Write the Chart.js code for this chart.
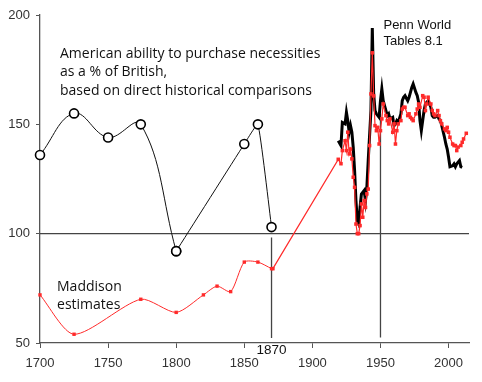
<!DOCTYPE html>
<html>
<head>
<meta charset="utf-8">
<script src="https://cdn.jsdelivr.net/npm/chart.js@4.4.1/dist/chart.umd.min.js"></script>
<style>
  html, body { margin: 0; padding: 0; background: #fff; }
</style>
</head>
<body>
<canvas id="chart" width="482" height="382"></canvas>
<script>
// tick labels
const xTicks = [1700, 1750, 1800, 1850, 1900, 1950, 2000];
const yTicks = [50, 100, 150, 200];

// American ability to purchase necessities (open circles)
const directYears  = [1700, 1725, 1750, 1774, 1800, 1850, 1860, 1870];
const directValues = [136, 155, 144, 150, 92, 141, 150, 103];

// Maddison benchmark years
const maddYears  = [1700, 1725, 1774, 1800, 1820, 1830, 1840, 1850, 1860, 1870];
const maddValues = [72, 54, 70, 64, 72, 76, 73.5, 87, 87, 84];

// Maddison annual
const maddAnnYears = [1871, 1919, 1921, 1922, 1924, 1925, 1926, 1927, 1928, 1929, 1930, 1931, 1932, 1933, 1934, 1935,
  1936, 1937, 1938, 1939, 1940, 1941, 1942, 1943, 1944, 1945, 1946, 1947, 1948, 1949, 1950, 1951, 1952, 1954, 1955,
  1956, 1957, 1959, 1960, 1961, 1962, 1963, 1965, 1966, 1967, 1968, 1970, 1971, 1972, 1973, 1974, 1976, 1977, 1978,
  1979, 1981, 1982, 1983, 1984, 1985, 1987, 1988, 1989, 1990, 1992, 1993, 1994, 1995, 1997, 1998, 1999, 2000, 2001,
  2003, 2004, 2005, 2006, 2007, 2009, 2010, 2011, 2013];
const maddAnnValues = [84, 134, 132, 138, 142.5, 138, 146.4, 136.5, 138.7, 134.2, 125.8, 121.2, 104.4, 100, 100, 103.7,
  113.6, 107.5, 115.1, 112, 118.2, 120.4, 140.3, 163.9, 182.7, 163, 149.4, 147.1, 148.6, 141, 147.1, 152.5, 159.3, 154, 151.7,
  150.2, 152.5, 146.4, 150.2, 141, 147.1, 150.2, 151.7, 157, 157.8, 157.8, 154, 154.8, 153.2, 152.5, 151.7, 154.8, 157, 159.3,
  157.8, 163.1, 162.4, 156.3, 159.3, 162.4, 159.3, 156.3, 154.8, 154, 156.3, 154, 151.7, 150.2, 147.9, 147.1, 148.6, 146.4, 144.1,
  141, 140.3, 140.3, 138, 139.6, 140.3, 141.8, 143.3, 145.9];

// Penn World Tables 8.1
const pwtYears = [1919, 1921, 1922, 1924, 1925, 1926, 1927, 1928, 1929, 1930, 1931, 1932, 1933, 1934, 1935, 1936, 1938,
  1939, 1940, 1941, 1943, 1944, 1945, 1946, 1947, 1949, 1950, 1951, 1952, 1954, 1955, 1956, 1957, 1959, 1960, 1961, 1962,
  1963, 1965, 1966, 1967, 1968, 1970, 1971, 1972, 1973, 1974, 1976, 1977, 1978, 1979, 1980, 1981, 1982, 1983, 1984, 1985,
  1987, 1988, 1989, 1990, 1992, 1993, 1994, 1995, 1997, 1998, 1999, 2000, 2001, 2003, 2004, 2005, 2006, 2008, 2009, 2010];
const pwtValues = [142.5, 140.3, 150.9, 150.2, 155.5, 151.7, 146.4, 149.4, 146.4, 139.5, 128.8, 115.1, 105.9, 104.4, 112, 118.1, 119.7,
  115.1, 121.2, 133.4, 156.3, 194, 163.9, 156.3, 154.8, 153.2, 160.8, 166.2, 160.8, 156.3, 154, 154.8, 152.5, 153.2, 149.4, 150.2, 151.7,
  150.9, 154.8, 160.8, 162.4, 163.1, 160.8, 162.4, 164.6, 166.9, 168.5, 164.6, 163.1, 160.1, 151.7, 147.1, 151.7, 156.3, 159.3, 160.1, 160.8,
  157.8, 154, 153.2, 153.2, 154, 152.5, 151.7, 149.4, 144.1, 141, 138.7, 134.9, 130.6, 131.1, 131.9, 130.6, 131.9, 133.4, 130.6, 130.3];

// reference lines
const parityLine = [100, 100];
const markerYears = [1870, 1950];

const titleLines = ['American ability to purchase necessities', 'as a % of British,', 'based on direct historical comparisons'];
const maddLines = ['Maddison', 'estimates'];
const pwtLines = ['Penn World', 'Tables 8.1'];

const pts = (xs, ys) => xs.map((v, i) => ({ x: v, y: ys[i] }));
const red = '#ff2a2a';

const notes = {
  id: 'notes',
  afterDatasetsDraw(chart) {
    const { ctx, scales: { x, y } } = chart;
    ctx.save();
    ctx.fillStyle = '#111';
    ctx.textBaseline = 'middle';
    ctx.textAlign = 'left';
    ctx.font = '14px "Open Sans"';
    titleLines.forEach((t, i) => ctx.fillText(t, x.getPixelForValue(1714.7), y.getPixelForValue(182.3) + i * 18.5));
    maddLines.forEach((t, i) => ctx.fillText(t, x.getPixelForValue(1712.5), y.getPixelForValue(75.8) + i * 18));
    ctx.font = '13px "Liberation Sans"';
    pwtLines.forEach((t, i) => ctx.fillText(t, x.getPixelForValue(1952.2), y.getPixelForValue(195.2) + i * 16));
    ctx.textAlign = 'center';
    ctx.font = '13.5px "Liberation Sans"';
    ctx.fillText('1870', x.getPixelForValue(1870), y.getPixelForValue(46.5));
    ctx.restore();
  }
};

const ctx = document.getElementById('chart');

// the direct comparisons: smooth up to 1800, almost straight after
const split = directYears.indexOf(1800);

new Chart(ctx, {
  type: 'line',
  data: {
    datasets: [
      {
        data: pts(directYears.slice(0, split + 1), directValues.slice(0, split + 1)),
        borderColor: '#111', borderWidth: 1, tension: 0.4, clip: false,
        pointRadius: 4.5, pointBorderWidth: 1.6, pointBorderColor: '#000', pointBackgroundColor: '#fff',
        order: 0
      },
      {
        data: pts(directYears.slice(split), directValues.slice(split)),
        borderColor: '#111', borderWidth: 1, tension: 0.12, clip: false,
        pointRadius: 4.5, pointBorderWidth: 1.6, pointBorderColor: '#000', pointBackgroundColor: '#fff',
        order: 0
      },
      {
        data: pts(maddYears, maddValues),
        borderColor: red, borderWidth: 1, tension: 0.25, clip: false,
        pointStyle: 'rect', pointRadius: 2.4, pointBorderWidth: 0, pointBackgroundColor: red,
        order: 1
      },
      {
        data: pts(maddAnnYears, maddAnnValues),
        borderColor: red, borderWidth: 1.2, tension: 0,
        pointStyle: 'rect', pointRadius: 2.5, pointBorderWidth: 0, pointBackgroundColor: red,
        order: 2
      },
      {
        data: pts(pwtYears, pwtValues),
        borderColor: '#000', borderWidth: 3, tension: 0, pointRadius: 0,
        order: 3
      },
      {
        data: [{ x: 1700, y: parityLine[0] }, { x: 2015, y: parityLine[1] }],
        borderColor: '#444', borderWidth: 1.3, pointRadius: 0,
        order: 10
      },
      {
        data: [{ x: markerYears[0], y: 98.3 }, { x: markerYears[0], y: 52.3 }],
        borderColor: '#444', borderWidth: 1.3, pointRadius: 0,
        order: 10
      },
      {
        data: [{ x: markerYears[1], y: 155 }, { x: markerYears[1], y: 52.5 }],
        borderColor: '#444', borderWidth: 1.3, pointRadius: 0,
        order: 10
      }
    ]
  },
  options: {
    responsive: false,
    animation: false,
    layout: { padding: { top: 15, right: 13, left: 0, bottom: 0 } },
    plugins: { legend: { display: false }, tooltip: { enabled: false } },
    scales: {
      x: {
        type: 'linear', min: 1700, max: 2015,
        afterBuildTicks: s => { s.ticks = xTicks.map(v => ({ value: v })); },
        afterFit: s => { s.height = 39; },
        grid: { drawOnChartArea: false, drawTicks: true, tickLength: 5, color: '#555', lineWidth: 1 },
        border: { color: '#555', width: 1.3 },
        ticks: { font: { family: '"Liberation Sans"', size: 13 }, color: '#333', padding: 8, maxRotation: 0, callback: v => String(v) }
      },
      y: {
        min: 50, max: 200,
        afterBuildTicks: s => { s.ticks = yTicks.map(v => ({ value: v })); },
        afterFit: s => { s.width = 40; },
        grid: { drawOnChartArea: false, drawTicks: true, tickLength: 4, color: '#555', lineWidth: 1 },
        border: { color: '#555', width: 1.3 },
        ticks: { font: { family: '"Liberation Sans"', size: 13 }, color: '#333', padding: 6 }
      }
    }
  },
  plugins: [notes]
});
</script>
</body>
</html>
